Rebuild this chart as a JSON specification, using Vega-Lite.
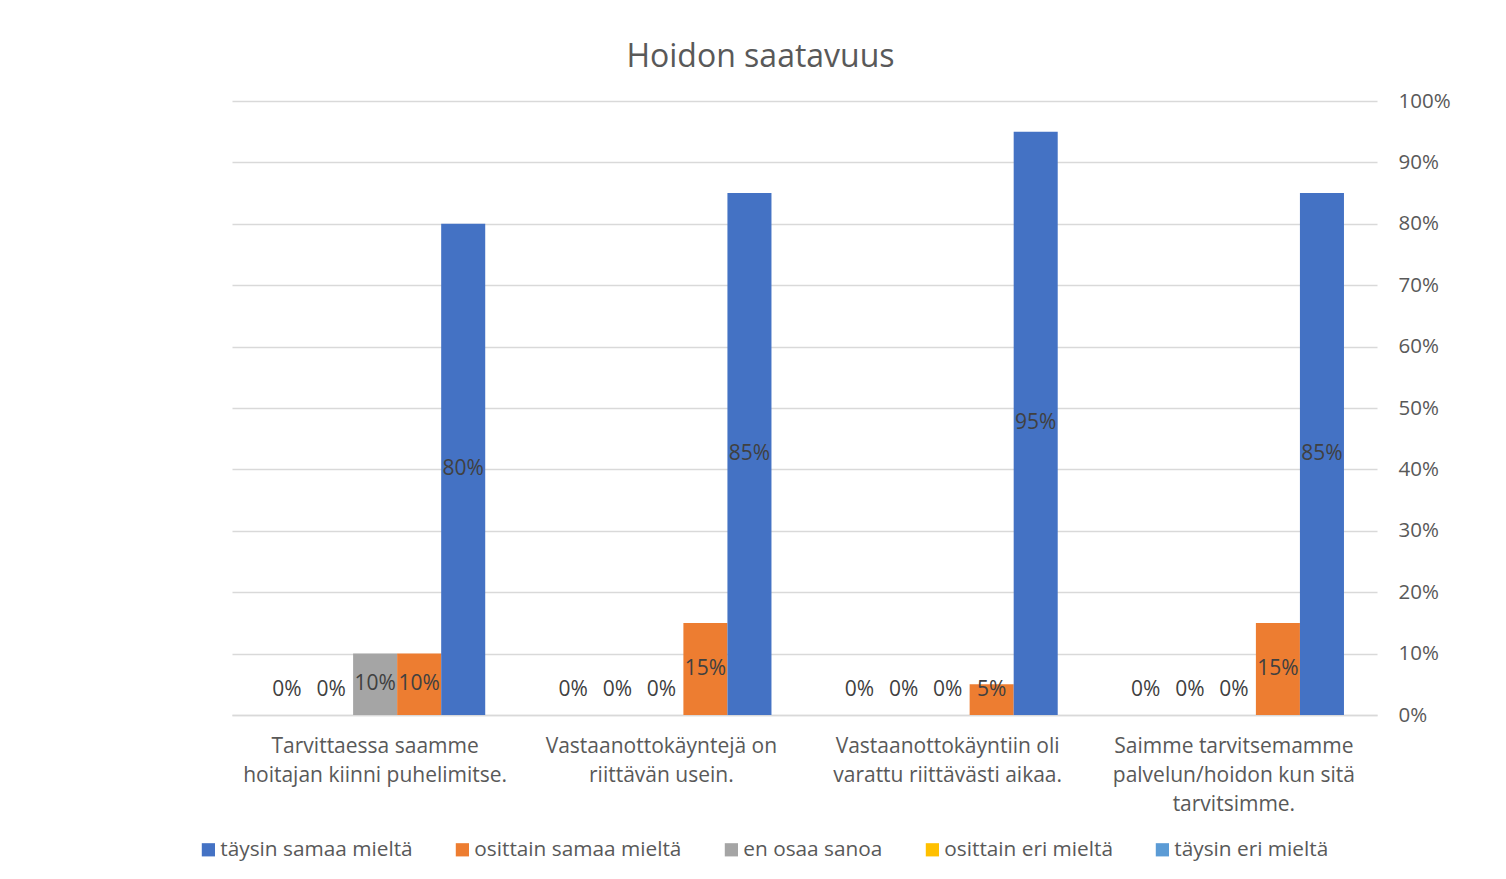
{
  "$schema": "https://vega.github.io/schema/vega-lite/v6.json",
  "width": 1145,
  "height": 614,
  "autosize": "none",
  "padding": {"left": 232, "top": 101, "right": 129, "bottom": 164},
  "background": "white",
  "title": {
    "text": "Hoidon saatavuus",
    "font": "Open Sans",
    "fontSize": 32,
    "fontWeight": "normal",
    "color": "#595959",
    "anchor": "middle",
    "baseline": "alphabetic",
    "offset": 33,
    "dx": -44,
    "dy": 41
  },
  "config": {
    "view": {"stroke": null},
    "font": "Open Sans"
  },
  "data": {
    "values": [
      {"kysymys": "Tarvittaessa saamme\nhoitajan kiinni puhelimitse.", "vastaus": "täysin eri mieltä", "osuus": 0},
      {"kysymys": "Tarvittaessa saamme\nhoitajan kiinni puhelimitse.", "vastaus": "osittain eri mieltä", "osuus": 0},
      {"kysymys": "Tarvittaessa saamme\nhoitajan kiinni puhelimitse.", "vastaus": "en osaa sanoa", "osuus": 0.10},
      {"kysymys": "Tarvittaessa saamme\nhoitajan kiinni puhelimitse.", "vastaus": "osittain samaa mieltä", "osuus": 0.10},
      {"kysymys": "Tarvittaessa saamme\nhoitajan kiinni puhelimitse.", "vastaus": "täysin samaa mieltä", "osuus": 0.80},
      {"kysymys": "Vastaanottokäyntejä on\nriittävän usein.", "vastaus": "täysin eri mieltä", "osuus": 0},
      {"kysymys": "Vastaanottokäyntejä on\nriittävän usein.", "vastaus": "osittain eri mieltä", "osuus": 0},
      {"kysymys": "Vastaanottokäyntejä on\nriittävän usein.", "vastaus": "en osaa sanoa", "osuus": 0},
      {"kysymys": "Vastaanottokäyntejä on\nriittävän usein.", "vastaus": "osittain samaa mieltä", "osuus": 0.15},
      {"kysymys": "Vastaanottokäyntejä on\nriittävän usein.", "vastaus": "täysin samaa mieltä", "osuus": 0.85},
      {"kysymys": "Vastaanottokäyntiin oli\nvarattu riittävästi aikaa.", "vastaus": "täysin eri mieltä", "osuus": 0},
      {"kysymys": "Vastaanottokäyntiin oli\nvarattu riittävästi aikaa.", "vastaus": "osittain eri mieltä", "osuus": 0},
      {"kysymys": "Vastaanottokäyntiin oli\nvarattu riittävästi aikaa.", "vastaus": "en osaa sanoa", "osuus": 0},
      {"kysymys": "Vastaanottokäyntiin oli\nvarattu riittävästi aikaa.", "vastaus": "osittain samaa mieltä", "osuus": 0.05},
      {"kysymys": "Vastaanottokäyntiin oli\nvarattu riittävästi aikaa.", "vastaus": "täysin samaa mieltä", "osuus": 0.95},
      {"kysymys": "Saimme tarvitsemamme\npalvelun/hoidon kun sitä\ntarvitsimme.", "vastaus": "täysin eri mieltä", "osuus": 0},
      {"kysymys": "Saimme tarvitsemamme\npalvelun/hoidon kun sitä\ntarvitsimme.", "vastaus": "osittain eri mieltä", "osuus": 0},
      {"kysymys": "Saimme tarvitsemamme\npalvelun/hoidon kun sitä\ntarvitsimme.", "vastaus": "en osaa sanoa", "osuus": 0},
      {"kysymys": "Saimme tarvitsemamme\npalvelun/hoidon kun sitä\ntarvitsimme.", "vastaus": "osittain samaa mieltä", "osuus": 0.15},
      {"kysymys": "Saimme tarvitsemamme\npalvelun/hoidon kun sitä\ntarvitsimme.", "vastaus": "täysin samaa mieltä", "osuus": 0.85}
    ]
  },
  "encoding": {
    "x": {
      "field": "kysymys",
      "type": "nominal",
      "sort": null,
      "scale": {"paddingInner": 0.2308, "paddingOuter": 0.1154},
      "axis": {
        "title": null,
        "labelAngle": 0,
        "labelExpr": "split(datum.label, '\\n')",
        "labelFont": "Open Sans",
        "labelFontSize": 21,
        "labelColor": "#595959",
        "labelLineHeight": 29,
        "labelPadding": 20,
        "labelLimit": 400,
        "ticks": false,
        "domainColor": "#D9D9D9",
        "domainWidth": 1.5
      }
    },
    "xOffset": {
      "field": "vastaus",
      "type": "nominal",
      "sort": ["täysin eri mieltä", "osittain eri mieltä", "en osaa sanoa", "osittain samaa mieltä", "täysin samaa mieltä"],
      "scale": {"paddingInner": 0, "paddingOuter": 0}
    }
  },
  "layer": [
    {
      "mark": {"type": "bar"},
      "encoding": {
        "y": {
          "field": "osuus",
          "type": "quantitative",
          "scale": {"domain": [0, 1], "nice": false},
          "axis": {
            "title": null,
            "orient": "right",
            "format": ".0%",
            "values": [0, 0.1, 0.2, 0.3, 0.4, 0.5, 0.6, 0.7, 0.8, 0.9, 1],
            "labelFont": "Open Sans",
            "labelFontSize": 20.5,
            "labelColor": "#595959",
            "labelPadding": 21,
            "labelAlign": "left",
            "ticks": false,
            "domain": false,
            "gridColor": "#D9D9D9",
            "gridWidth": 1.5
          }
        },
        "color": {
          "field": "vastaus",
          "type": "nominal",
          "scale": {
            "domain": ["täysin samaa mieltä", "osittain samaa mieltä", "en osaa sanoa", "osittain eri mieltä", "täysin eri mieltä"],
            "range": ["#4472C4", "#ED7D31", "#A5A5A5", "#FFC000", "#5B9BD5"]
          },
          "legend": {
            "title": null,
            "orient": "none",
            "legendX": -34,
            "legendY": 738,
            "direction": "horizontal",
            "columns": 5,
            "symbolType": "square",
            "symbolSize": 175,
            "symbolStrokeWidth": 0,
            "labelFont": "Open Sans",
            "labelFontSize": 20.8,
            "labelColor": "#595959",
            "labelOffset": 1.5,
            "columnPadding": 39,
            "labelLimit": 400
          }
        }
      }
    },
    {
      "transform": [
        {"calculate": "max(datum.osuus / 2, 0.04)", "as": "keskikohta"}
      ],
      "mark": {
        "type": "text",
        "font": "Open Sans",
        "fontSize": 21,
        "color": "#404040",
        "baseline": "middle",
        "align": "center"
      },
      "encoding": {
        "y": {"field": "keskikohta", "type": "quantitative"},
        "text": {"field": "osuus", "type": "quantitative", "format": ".0%"}
      }
    }
  ]
}
